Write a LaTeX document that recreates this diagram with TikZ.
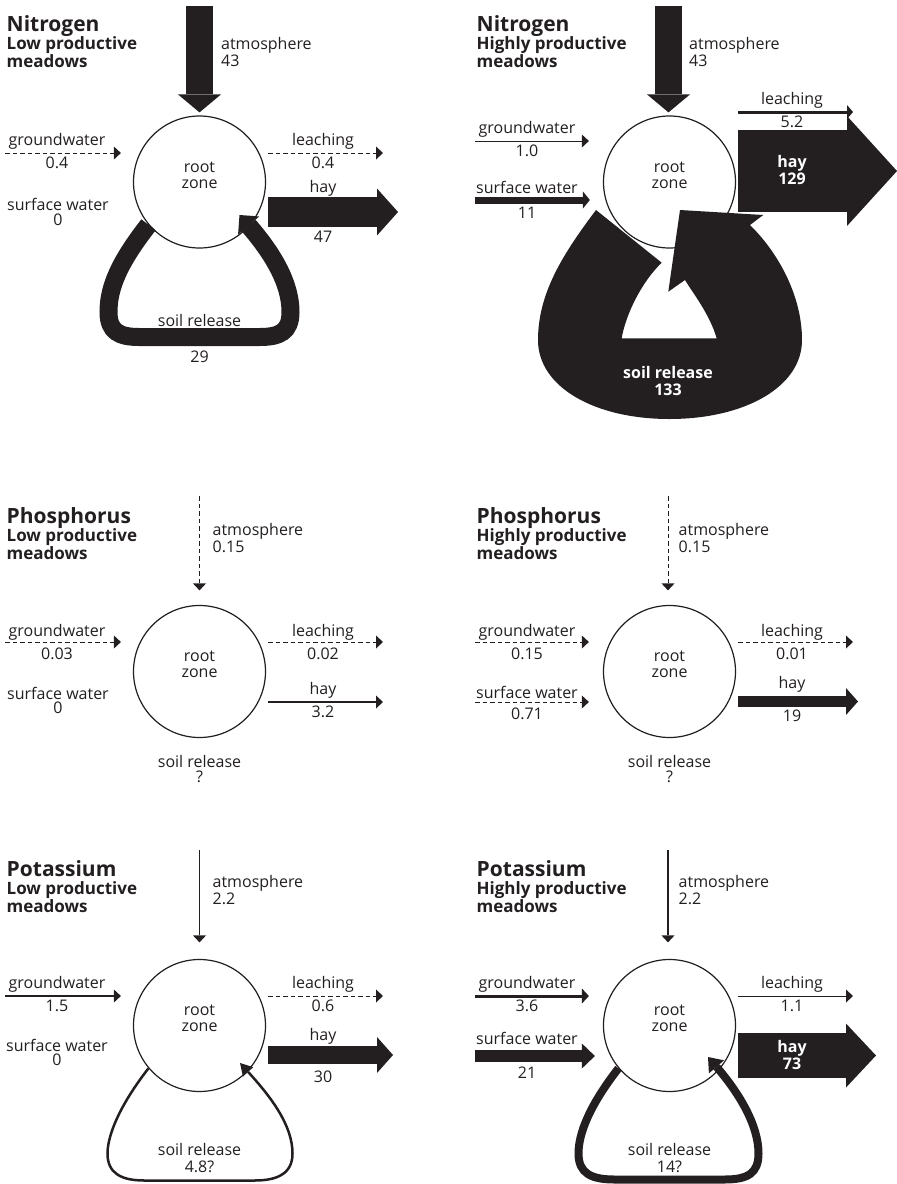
\documentclass[tikz,border=0pt]{standalone}
\usepackage{fontspec}
\setmainfont{Open Sans}
\usetikzlibrary{arrows.meta}
\definecolor{ink}{RGB}{35,31,32}
\newcommand{\lblfont}{\fontsize{16}{16}\selectfont}
\newcommand{\ttlfont}{\fontsize{21}{22}\selectfont\bfseries}
\newcommand{\subfont}{\fontsize{17}{18}\selectfont\bfseries}
\newcommand{\boldlbl}{\fontsize{16}{17}\selectfont\bfseries}

\begin{document}
\begin{tikzpicture}[x=1pt,y=-1pt,
  every node/.style={inner sep=0pt,font=\lblfont,text=ink},
  zone/.style={circle,draw=ink,fill=white,line width=1.2pt,minimum size=132pt,
    label={[align=center,yshift=7pt]center:root\\zone}},
  ttl/.style={anchor=base west,font=\ttlfont},
  sub/.style={anchor=base west,font=\subfont},
  flow/.style={draw=ink,line width=1pt,-{Triangle[width=13pt,length=7pt,line width=0pt]}},
  dashflow/.style={flow,dash pattern=on 4.5pt off 3pt},
  bigflow/.style n args={3}{draw=ink,line width=#1,-{Triangle[width=#2,length=#3,line width=0pt]}},
  inflow/.style={shorten >=#1},inflow/.default=12pt,
  outflow/.style={shorten <=2pt},
  whitelbl/.style={text=white,font=\boldlbl,align=center}]
\useasboundingbox (0,0) rectangle (897,1184);

%% titles of the six panels
\foreach \x/\y/\el/\kind [count=\k] in {6.5/31/Nitrogen/Low,476.5/31/Nitrogen/Highly,
    6.5/523/Phosphorus/Low,476.5/523/Phosphorus/Highly,6.5/876/Potassium/Low,476.5/876/Potassium/Highly}{
  \node[ttl] (ttl\k) at (\x,\y) {\el};
  \node[sub] (sub\k) at (\x,\y+18) {\kind{} productive};
  \node[sub] (mdw\k) at (\x,\y+36) {meadows};
}
%% root zones drawn with a loop
\foreach \p/\x/\y in {N1/199.5/182,N2/669.5/182,P1/199.5/671.5,P2/669.5/671.5,K1/199.5/1025.5,K2/669.5/1025.5}
  \node[zone] (z\p) at (\x,\y) {};

%% Nitrogen, low productive
\begin{scope}[shift={(199.5,182)}]
  \coordinate (atmtopN1) at (0,-176);
  \draw[bigflow={27pt}{43pt}{18pt},inflow=3pt] (atmtopN1) -- (zN1.north);
  \node[anchor=west] (atmN1) at (21.5,-137) {atmosphere};
  \node[anchor=west] (atmvN1) at (21.5,-121) {43};
  \coordinate (gwendN1) at (-194.5,-29);
  \draw[dashflow,inflow] (gwendN1) -- (gwendN1 -| zN1.west);
  \node (gwN1) at (-142.5,-41) {groundwater};
  \node (gwvN1) at (-142.5,-19) {0.4};
  \coordinate (leendN1) at (183.5,-29);
  \draw[dashflow,outflow] (leendN1 -| zN1.east) -- (leendN1);
  \node (leN1) at (123.5,-41) {leaching};
  \node (levN1) at (123.5,-19) {0.4};
  \node (swN1) at (-141.5,22) {surface water};
  \node (swvN1) at (-141.5,38) {0};
  \coordinate (hayendN1) at (198.5,30);
  \draw[bigflow={30pt}{47pt}{21pt},outflow] (hayendN1 -| zN1.east) -- (hayendN1);
  \node (hayN1) at (123.5,6) {hay};
  \node (hayvN1) at (123.5,55) {47};
  % soil release loop
  \draw[bigflow={18pt}{28pt}{14pt}] (zN1.220) .. controls (-80,80) and (-91,105) .. (-91,130)
    .. controls (-91,150) and (-80,155) .. (-60,155) -- (60,155)
    .. controls (80,155) and (91,150) .. (91,130) .. controls (91,100) and (72,70) .. (40,33);
  \node (soilN1) at (0,138) {soil release};
  \node (soilvN1) at (0,175) {29};
\end{scope}

%% Nitrogen, highly productive
\begin{scope}[shift={(669.5,182)}]
  \coordinate (atmtopN2) at (-1,-176);
  \draw[bigflow={27pt}{43pt}{18pt},inflow=3pt] (atmtopN2) -- (atmtopN2 |- zN2.north);
  \node[anchor=west] (atmN2) at (19.5,-137) {atmosphere};
  \node[anchor=west] (atmvN2) at (19.5,-121) {43};
  \coordinate (gwendN2) at (-194.5,-41);
  \draw[flow,inflow=14pt] (gwendN2) -- (gwendN2 -| zN2.west);
  \node (gwN2) at (-142.5,-53) {groundwater};
  \node (gwvN2) at (-142.5,-31) {1.0};
  \coordinate (swendN2) at (-194.5,18);
  \draw[bigflow={7pt}{17pt}{7pt},inflow=13pt] (swendN2) -- (swendN2 -| zN2.west);
  \node (swN2) at (-142.5,5) {surface water};
  \node (swvN2) at (-142.5,31) {11};
  \coordinate (leendN2) at (183.5,-70);
  \draw[bigflow={3pt}{14pt}{6pt},outflow] (leendN2 -| zN2.east) -- (leendN2);
  \node (leN2) at (122.5,-82) {leaching};
  \node (levN2) at (122.5,-60) {5.2};
  \coordinate (hayendN2) at (227.5,-11);
  \draw[bigflow={82pt}{110pt}{50pt},outflow] (hayendN2 -| zN2.east) -- (hayendN2);
  \node[whitelbl] (hayN2) at (122.5,-12.5) {hay\\129};
  % soil release as one wide band
  \fill[ink] (-73.5,28) .. controls (-105,70) and (-131.5,110) .. (-131.5,158)
    .. controls (-131.5,205) and (-75,237) .. (0,237)
    .. controls (75,237) and (132.5,205) .. (132.5,158)
    .. controls (132.5,115) and (110,72) .. (80.5,43)
    -- (93.8,33) -- (10.5,28) -- (-1.2,109.7) -- (15.5,98)
    .. controls (24,112) and (40,132) .. (47.2,156.3) -- (-47.8,156.3)
    .. controls (-44,133) and (-28,100) .. (-7.8,80.7) -- cycle;
  \node[whitelbl] (soilN2) at (-1.5,199) {soil release\\133};
\end{scope}

%% Phosphorus, low productive
\begin{scope}[shift={(199.5,671.5)}]
  \coordinate (atmtopP1) at (0,-175.5);
  \draw[dashflow,inflow=14.5pt] (atmtopP1) -- (zP1.north);
  \node[anchor=west] (atmP1) at (13,-140.5) {atmosphere};
  \node[anchor=west] (atmvP1) at (13,-124.5) {0.15};
  \coordinate (gwendP1) at (-194.5,-29.5);
  \draw[dashflow,inflow] (gwendP1) -- (gwendP1 -| zP1.west);
  \node (gwP1) at (-142.5,-39.5) {groundwater};
  \node (gwvP1) at (-142.5,-17.5) {0.03};
  \coordinate (leendP1) at (183.5,-29.5);
  \draw[dashflow,outflow] (leendP1 -| zP1.east) -- (leendP1);
  \node (leP1) at (123.5,-39.5) {leaching};
  \node (levP1) at (123.5,-17.5) {0.02};
  \node (swP1) at (-141.5,21.5) {surface water};
  \node (swvP1) at (-141.5,36.5) {0};
  \coordinate (hayendP1) at (183.5,30.5);
  \draw[flow,line width=2pt,outflow] (hayendP1 -| zP1.east) -- (hayendP1);
  \node (hayP1) at (123.5,18.5) {hay};
  \node (hayvP1) at (123.5,40.5) {3.2};
  \node (soilP1) at (0,89.5) {soil release};
  \node (soilvP1) at (0,105.5) {?};
\end{scope}

%% Phosphorus, highly productive
\begin{scope}[shift={(669.5,671.5)}]
  \coordinate (atmtopP2) at (-1.5,-175.5);
  \draw[dashflow,inflow=14.5pt] (atmtopP2) -- (atmtopP2 |- zP2.north);
  \node[anchor=west] (atmP2) at (9,-140.5) {atmosphere};
  \node[anchor=west] (atmvP2) at (9,-124.5) {0.15};
  \coordinate (gwendP2) at (-194.5,-29.5);
  \draw[dashflow,inflow=14pt] (gwendP2) -- (gwendP2 -| zP2.west);
  \node (gwP2) at (-142.5,-39.5) {groundwater};
  \node (gwvP2) at (-142.5,-17.5) {0.15};
  \coordinate (swendP2) at (-194.5,30.5);
  \draw[dashflow,inflow=14pt] (swendP2) -- (swendP2 -| zP2.west);
  \node (swP2) at (-142.5,21) {surface water};
  \node (swvP2) at (-142.5,42.5) {0.71};
  \coordinate (leendP2) at (183.5,-29.5);
  \draw[dashflow,outflow] (leendP2 -| zP2.east) -- (leendP2);
  \node (leP2) at (122.5,-39.5) {leaching};
  \node (levP2) at (122.5,-17.5) {0.01};
  \coordinate (hayendP2) at (188.5,30);
  \draw[bigflow={11pt}{27pt}{12pt},outflow] (hayendP2 -| zP2.east) -- (hayendP2);
  \node (hayP2) at (122.5,12.5) {hay};
  \node (hayvP2) at (122.5,44.5) {19};
  \node (soilP2) at (0,89.5) {soil release};
  \node (soilvP2) at (0,105.5) {?};
\end{scope}

%% Potassium, low productive
\begin{scope}[shift={(199.5,1025.5)}]
  \coordinate (atmtopK1) at (0,-175.5);
  \draw[flow,line width=1.5pt,inflow=16.5pt] (atmtopK1) -- (zK1.north);
  \node[anchor=west] (atmK1) at (13,-142.5) {atmosphere};
  \node[anchor=west] (atmvK1) at (13,-126.5) {2.2};
  \coordinate (gwendK1) at (-194.5,-29.5);
  \draw[flow,line width=1.5pt,inflow] (gwendK1) -- (gwendK1 -| zK1.west);
  \node (gwK1) at (-142.5,-41.5) {groundwater};
  \node (gwvK1) at (-142.5,-19.5) {1.5};
  \coordinate (leendK1) at (183.5,-29.5);
  \draw[dashflow,outflow] (leendK1 -| zK1.east) -- (leendK1);
  \node (leK1) at (123.5,-41.5) {leaching};
  \node (levK1) at (123.5,-19.5) {0.6};
  \node (swK1) at (-142.5,19.5) {surface water};
  \node (swvK1) at (-142.5,34.5) {0};
  \coordinate (hayendK1) at (193.5,29.5);
  \draw[bigflow={18pt}{36pt}{16pt},outflow] (hayendK1 -| zK1.east) -- (hayendK1);
  \node (hayK1) at (123.5,10.5) {hay};
  \node (hayvK1) at (123.5,51.5) {30};
  % soil release loop
  \draw[bigflow={2.5pt}{14pt}{12pt}] (zK1.220) .. controls (-80,80) and (-92,110) .. (-92,128)
    .. controls (-92,148) and (-78,155) .. (-55,155) -- (55,155)
    .. controls (78,155) and (93,148) .. (93,128) .. controls (93,100) and (72,72) .. (40.5,37.5);
  \node (soilK1) at (0,123.5) {soil release};
  \node (soilvK1) at (0,141.5) {4.8?};
\end{scope}

%% Potassium, highly productive
\begin{scope}[shift={(669.5,1025.5)}]
  \coordinate (atmtopK2) at (-1.5,-175.5);
  \draw[flow,line width=1.5pt,inflow=16.5pt] (atmtopK2) -- (atmtopK2 |- zK2.north);
  \node[anchor=west] (atmK2) at (9,-142.5) {atmosphere};
  \node[anchor=west] (atmvK2) at (9,-126.5) {2.2};
  \coordinate (gwendK2) at (-194.5,-29.5);
  \draw[bigflow={3pt}{15pt}{7pt},inflow=14pt] (gwendK2) -- (gwendK2 -| zK2.west);
  \node (gwK2) at (-142.5,-41.5) {groundwater};
  \node (gwvK2) at (-142.5,-19.5) {3.6};
  \coordinate (swendK2) at (-194.5,30.5);
  \draw[bigflow={12pt}{25pt}{13pt},inflow=8pt] (swendK2) -- (swendK2 -| zK2.west);
  \node (swK2) at (-142.5,12.5) {surface water};
  \node (swvK2) at (-142.5,47.5) {21};
  \coordinate (leendK2) at (183.5,-29.5);
  \draw[flow,outflow] (leendK2 -| zK2.east) -- (leendK2);
  \node (leK2) at (122.5,-41.5) {leaching};
  \node (levK2) at (122.5,-19.5) {1.1};
  \coordinate (hayendK2) at (206.5,30);
  \draw[bigflow={45pt}{64pt}{30pt},outflow] (hayendK2 -| zK2.east) -- (hayendK2);
  \node[whitelbl] (hayK2) at (122.5,29) {hay\\73};
  % soil release loop
  \draw[bigflow={8pt}{20pt}{13pt}] (zK2.220) .. controls (-80,80) and (-91,108) .. (-91,128)
    .. controls (-91,148) and (-78,154) .. (-55,154) -- (55,154)
    .. controls (78,154) and (89,148) .. (89,128) .. controls (89,100) and (70,68) .. (38.5,31.5);
  \node (soilK2) at (0,123.5) {soil release};
  \node (soilvK2) at (0,141.5) {14?};
\end{scope}
\end{tikzpicture}
\end{document}
